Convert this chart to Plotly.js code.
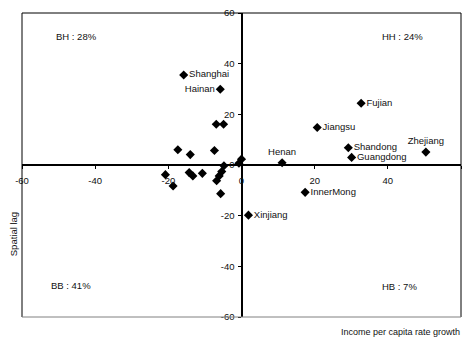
<!DOCTYPE html>
<html>
<head>
<meta charset="utf-8">
<script src="https://cdn.plot.ly/plotly-3.0.1.min.js"></script>
<style>html,body{margin:0;padding:0;background:#fff;}#chart{width:462px;height:338px;}</style>
</head>
<body>
<div id="chart"></div>
<script>
// Named provinces
var namedLabels = ["Shanghai","Hainan","Fujian","Jiangsu","Shandong","Guangdong","Zhejiang","Henan","InnerMong","Xinjiang"];
var namedX = [-15.8, -5.8, 32.7, 20.7, 29.2, 30.1, 50.4, 11.1, 17.4, 1.9];
var namedY = [35.5, 29.9, 24.4, 14.8, 6.8, 3.0, 5.1, 0.9, -10.8, -19.8];
var namedPos = ["middle right","middle left","middle right","middle right","middle right","middle right","top center","top center","middle right","middle right"];

// Unlabelled provinces
var otherX = [-17.4, -14.0, -7.4, -6.9, -4.9, -20.8, -18.7, -14.3, -13.3, -10.7, -5.4, -6.1, -6.8, -5.7, -4.8, -0.7, 0.0];
var otherY = [6.0, 4.1, 5.7, 16.1, 16.1, -3.8, -8.3, -3.0, -4.3, -3.3, -2.6, -4.3, -6.2, -11.3, -0.3, 0.7, 2.3];

// Quadrant labels
var quadText = ["BH : 28%", "HH : 24%", "BB : 41%", "HB : 7%"];
var quadX = [-45, 44, -46.6, 43.2];
var quadY = [50.6, 50.6, -47.4, -47.8];

var tickVals = [-60, -40, -20, 0, 20, 40, 60];
var tickText = ["-60", "-40", "-20", "0", "20", "40", "60"];

var fontFam = "Liberation Sans, Arial, sans-serif";
var txtCol = "#111";

var traces = [
  {
    x: otherX, y: otherY, type: "scatter", mode: "markers",
    marker: {symbol: "diamond", size: 7, color: "#000"},
    hoverinfo: "none", showlegend: false, cliponaxis: false
  },
  {
    x: namedX, y: namedY, type: "scatter", mode: "markers+text",
    text: namedLabels, textposition: namedPos,
    textfont: {family: fontFam, size: 9.5, color: txtCol},
    marker: {symbol: "diamond", size: 7, color: "#000"},
    hoverinfo: "none", showlegend: false, cliponaxis: false
  }
];

var annotations = quadText.map(function(t, i) {
  return {x: quadX[i], y: quadY[i], xref: "x", yref: "y", text: t, showarrow: false,
          font: {family: fontFam, size: 9.5, color: txtCol}};
});
annotations.push({
  x: -0.02, y: 0.273, xref: "paper", yref: "paper", text: "Spatial lag", textangle: -90,
  showarrow: false, xanchor: "center", yanchor: "middle",
  font: {family: fontFam, size: 9.5, color: txtCol}
});
annotations.push({
  x: 1.003, y: -0.049, xref: "paper", yref: "paper", text: "Income per capita rate growth",
  showarrow: false, xanchor: "right", yanchor: "middle",
  font: {family: fontFam, size: 9, color: txtCol}
});

var axisCommon = {
  range: [-60, 60], autorange: false, tickmode: "array",
  tickvals: tickVals, ticktext: tickText,
  showgrid: false, zeroline: false, showline: true, linecolor: "#000", linewidth: 2,
  ticks: "outside", ticklen: 3, tickwidth: 1, tickcolor: "#000",
  tickfont: {family: fontFam, size: 9.5, color: txtCol},
  anchor: "free", position: 0.5, fixedrange: true
};

var layout = {
  width: 462, height: 338,
  margin: {l: 22, r: 1, t: 13, b: 21, pad: 0},
  paper_bgcolor: "#fff", plot_bgcolor: "#fff",
  xaxis: Object.assign({}, axisCommon, {ticklabelstandoff: 4}),
  yaxis: Object.assign({}, axisCommon, {ticklabelstandoff: 1}),
  shapes: [
    {type: "line", xref: "paper", yref: "paper", x0: 0, x1: 1, y0: 1, y1: 1, line: {color: "#000", width: 1}},
    {type: "line", xref: "paper", yref: "paper", x0: 0, x1: 0, y0: 0, y1: 1, line: {color: "#000", width: 1}},
    {type: "line", xref: "paper", yref: "paper", x0: 1, x1: 1, y0: 0, y1: 1, line: {color: "#000", width: 1}},
    {type: "line", xref: "paper", yref: "paper", x0: 0, x1: 1, y0: 0, y1: 0, line: {color: "#808080", width: 1}}
  ],
  annotations: annotations,
  showlegend: false
};

Plotly.newPlot("chart", traces, layout, {staticPlot: true, displayModeBar: false});
</script>
</body>
</html>
